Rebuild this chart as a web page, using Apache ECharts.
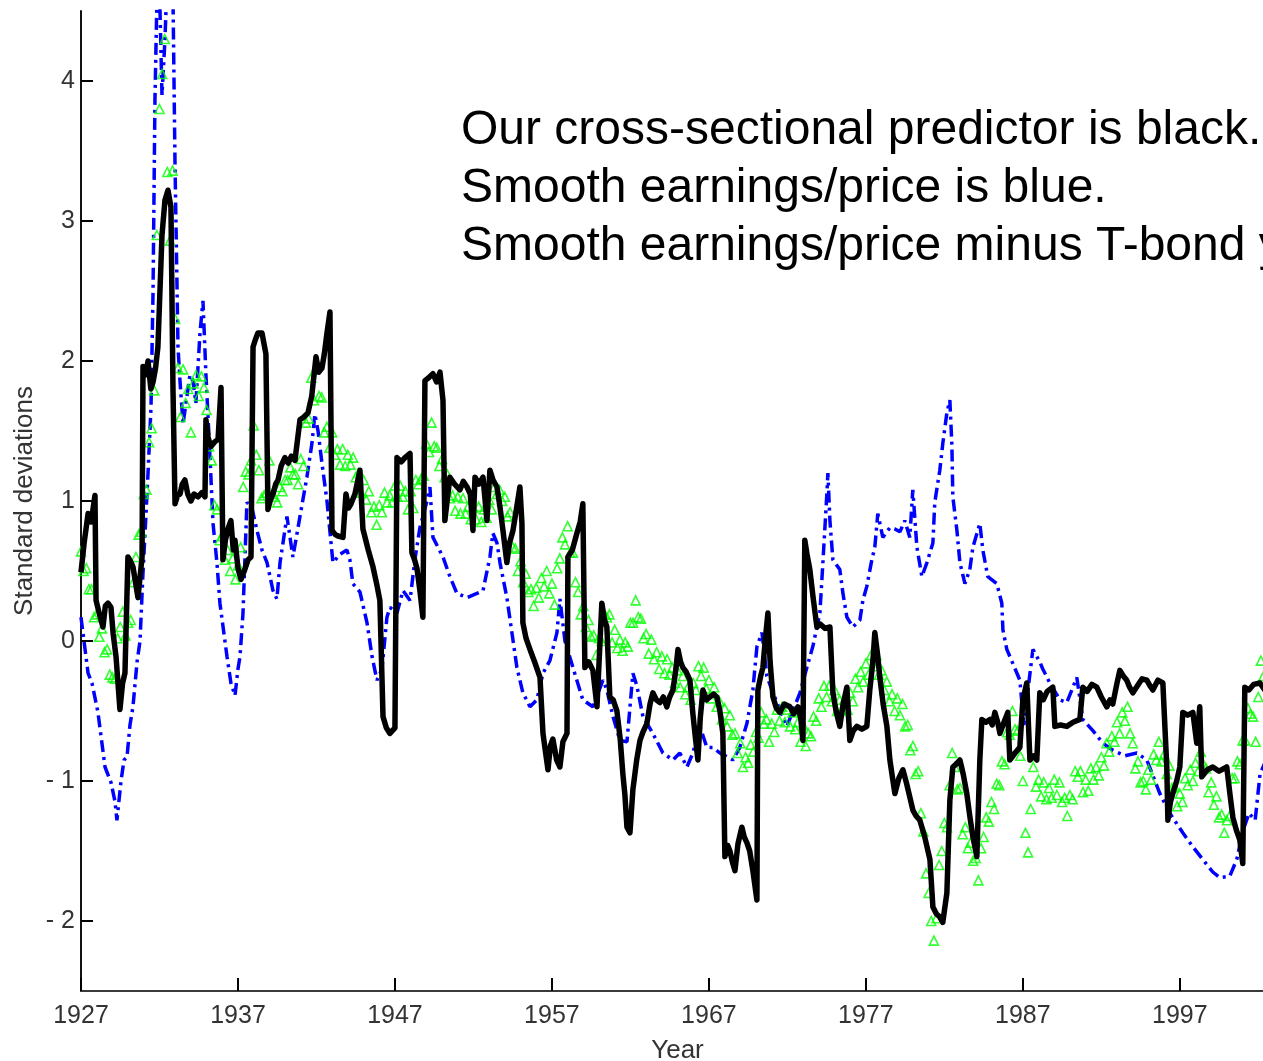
<!DOCTYPE html>
<html>
<head>
<meta charset="utf-8">
<title>Predictors in standard deviations</title>
<script src="https://cdn.jsdelivr.net/npm/echarts@6/dist/echarts.min.js"></script>
<style>
  html, body { margin: 0; padding: 0; background: #ffffff; overflow: hidden; }
  #chart { width: 1300px; height: 1061px; }
</style>
</head>
<body>
<div id="chart"></div>
<script>
// Axis ticks
const yearTicks = [1927, 1937, 1947, 1957, 1967, 1977, 1987, 1997];
const sdTicks = [-2, -1, 0, 1, 2, 3, 4];

// Cross-sectional predictor: [year, standard deviations]
const crossSectional = [
  [1927.00, 0.49], [1927.20, 0.70], [1927.45, 0.91], [1927.65, 0.85], [1927.89, 1.04], [1927.96, 0.29],
  [1928.20, 0.18], [1928.40, 0.10], [1928.55, 0.25], [1928.72, 0.27], [1928.91, 0.24], [1929.05, 0.05],
  [1929.23, -0.11], [1929.48, -0.49], [1929.65, -0.30], [1929.80, -0.23], [1929.99, 0.60], [1930.15, 0.57],
  [1930.31, 0.53], [1930.50, 0.40], [1930.63, 0.31], [1930.89, 0.60], [1930.95, 1.96], [1931.10, 1.90],
  [1931.27, 2.00], [1931.45, 1.80], [1931.59, 1.85], [1931.75, 1.95], [1931.90, 2.10], [1932.16, 2.90],
  [1932.35, 3.15], [1932.54, 3.22], [1932.73, 3.10], [1932.86, 1.80], [1932.99, 0.98], [1933.15, 1.04],
  [1933.31, 1.05], [1933.45, 1.12], [1933.62, 1.15], [1933.80, 1.05], [1934.00, 1.00], [1934.20, 1.05],
  [1934.45, 1.03], [1934.70, 1.06], [1934.90, 1.03], [1934.96, 1.58], [1935.10, 1.45], [1935.28, 1.39],
  [1935.50, 1.42], [1935.73, 1.44], [1935.92, 1.81], [1936.04, 0.58], [1936.20, 0.72], [1936.36, 0.80],
  [1936.55, 0.86], [1936.70, 0.65], [1936.81, 0.72], [1937.00, 0.52], [1937.19, 0.44], [1937.40, 0.50],
  [1937.64, 0.58], [1937.83, 0.60], [1937.96, 2.10], [1938.10, 2.15], [1938.27, 2.20], [1938.53, 2.20],
  [1938.78, 2.05], [1938.91, 0.94], [1939.05, 1.00], [1939.23, 1.05], [1939.40, 1.12], [1939.55, 1.15],
  [1939.75, 1.25], [1939.99, 1.31], [1940.20, 1.27], [1940.40, 1.32], [1940.63, 1.29], [1940.95, 1.58],
  [1941.20, 1.60], [1941.46, 1.63], [1941.70, 1.75], [1941.97, 2.03], [1942.15, 1.92], [1942.35, 1.95],
  [1942.50, 2.05], [1942.67, 2.20], [1942.86, 2.35], [1942.99, 0.79], [1943.20, 0.76], [1943.37, 0.75],
  [1943.69, 0.74], [1943.88, 1.05], [1944.05, 0.95], [1944.20, 0.98], [1944.45, 1.05], [1944.77, 1.22],
  [1944.96, 0.80], [1945.30, 0.65], [1945.60, 0.53], [1945.85, 0.40], [1946.04, 0.29], [1946.24, -0.54],
  [1946.45, -0.62], [1946.68, -0.66], [1947.00, -0.62], [1947.13, 1.31], [1947.40, 1.28], [1947.64, 1.31],
  [1947.96, 1.34], [1948.08, 0.63], [1948.25, 0.58], [1948.40, 0.52], [1948.60, 0.35], [1948.78, 0.17],
  [1948.91, 1.86], [1949.15, 1.88], [1949.42, 1.91], [1949.65, 1.85], [1949.87, 1.92], [1950.06, 1.72],
  [1950.18, 0.86], [1950.50, 1.17], [1950.80, 1.12], [1951.14, 1.08], [1951.35, 1.14], [1951.59, 1.10],
  [1951.80, 1.05], [1951.97, 0.79], [1952.10, 1.17], [1952.35, 1.12], [1952.61, 1.17], [1952.86, 0.86],
  [1953.05, 1.22], [1953.25, 1.15], [1953.50, 1.10], [1953.70, 0.95], [1953.88, 0.79], [1954.13, 0.56],
  [1954.30, 0.70], [1954.52, 0.79], [1954.75, 0.95], [1954.96, 1.10], [1955.09, 0.84], [1955.15, 0.13],
  [1955.35, 0.02], [1955.60, -0.06], [1955.90, -0.15], [1956.24, -0.26], [1956.43, -0.66], [1956.60, -0.80],
  [1956.75, -0.92], [1956.90, -0.75], [1957.06, -0.70], [1957.30, -0.85], [1957.51, -0.90], [1957.70, -0.72],
  [1957.96, -0.66], [1958.02, 0.60], [1958.30, 0.65], [1958.59, 0.77], [1958.80, 0.85], [1958.97, 0.98],
  [1959.10, -0.19], [1959.35, -0.15], [1959.61, -0.21], [1959.87, -0.47], [1960.18, 0.27], [1960.35, 0.15],
  [1960.50, 0.10], [1960.69, -0.40], [1960.90, -0.42], [1961.14, -0.50], [1961.35, -0.70], [1961.52, -0.95],
  [1961.65, -1.10], [1961.78, -1.33], [1961.97, -1.37], [1962.16, -1.06], [1962.40, -0.85], [1962.61, -0.71],
  [1962.80, -0.65], [1963.05, -0.59], [1963.25, -0.45], [1963.43, -0.37], [1963.65, -0.42], [1963.88, -0.44],
  [1964.10, -0.40], [1964.32, -0.47], [1964.50, -0.40], [1964.71, -0.35], [1964.90, -0.20], [1965.03, -0.06],
  [1965.20, -0.15], [1965.34, -0.19], [1965.55, -0.22], [1965.79, -0.28], [1965.98, -0.52], [1966.15, -0.70],
  [1966.30, -0.85], [1966.45, -0.55], [1966.62, -0.35], [1966.85, -0.42], [1967.06, -0.40], [1967.30, -0.38],
  [1967.51, -0.40], [1967.70, -0.50], [1967.89, -0.66], [1968.02, -1.54], [1968.20, -1.46], [1968.34, -1.50],
  [1968.50, -1.58], [1968.66, -1.64], [1968.85, -1.45], [1969.10, -1.33], [1969.25, -1.40], [1969.42, -1.44],
  [1969.60, -1.50], [1969.80, -1.64], [1970.06, -1.85], [1970.12, -0.35], [1970.30, -0.25], [1970.44, -0.19],
  [1970.60, 0.02], [1970.76, 0.20], [1970.90, -0.15], [1971.08, -0.40], [1971.30, -0.48], [1971.52, -0.51],
  [1971.80, -0.45], [1972.16, -0.47], [1972.40, -0.52], [1972.67, -0.47], [1972.85, -0.55], [1972.99, -0.71],
  [1973.11, 0.72], [1973.25, 0.62], [1973.43, 0.51], [1973.65, 0.30], [1973.88, 0.10], [1974.10, 0.12],
  [1974.40, 0.09], [1974.71, 0.10], [1974.90, -0.37], [1975.10, -0.50], [1975.34, -0.61], [1975.55, -0.45],
  [1975.79, -0.33], [1975.98, -0.71], [1976.20, -0.64], [1976.43, -0.61], [1976.75, -0.63], [1977.06, -0.61],
  [1977.25, -0.35], [1977.45, -0.14], [1977.57, 0.06], [1977.75, -0.10], [1977.89, -0.26], [1978.10, -0.45],
  [1978.34, -0.61], [1978.53, -0.85], [1978.70, -0.98], [1978.85, -1.09], [1979.10, -0.98], [1979.36, -0.92],
  [1979.60, -1.02], [1980.00, -1.21], [1980.20, -1.25], [1980.44, -1.28], [1980.75, -1.40], [1981.08, -1.56],
  [1981.27, -1.90], [1981.50, -1.95], [1981.70, -1.97], [1981.90, -2.01], [1982.16, -1.80], [1982.35, -1.14],
  [1982.54, -0.90], [1982.75, -0.88], [1982.99, -0.85], [1983.20, -0.95], [1983.43, -1.09], [1983.62, -1.25],
  [1983.82, -1.40], [1984.07, -1.54], [1984.26, -0.85], [1984.39, -0.56], [1984.65, -0.58], [1984.90, -0.56],
  [1985.05, -0.60], [1985.22, -0.51], [1985.40, -0.58], [1985.54, -0.66], [1985.80, -0.58], [1986.04, -0.51],
  [1986.17, -0.85], [1986.50, -0.80], [1986.81, -0.76], [1987.00, -0.42], [1987.25, -0.30], [1987.45, -0.85],
  [1987.70, -0.82], [1987.89, -0.85], [1988.08, -0.37], [1988.30, -0.42], [1988.55, -0.36], [1988.91, -0.33],
  [1989.04, -0.61], [1989.40, -0.60], [1989.80, -0.61], [1990.20, -0.58], [1990.63, -0.56], [1990.82, -0.33],
  [1991.10, -0.36], [1991.40, -0.31], [1991.71, -0.33], [1992.00, -0.40], [1992.35, -0.47], [1992.55, -0.42],
  [1992.73, -0.45], [1993.00, -0.30], [1993.18, -0.21], [1993.40, -0.25], [1993.62, -0.28], [1993.80, -0.33],
  [1994.01, -0.37], [1994.30, -0.32], [1994.60, -0.27], [1994.90, -0.28], [1995.10, -0.32], [1995.28, -0.35],
  [1995.60, -0.28], [1995.92, -0.30], [1996.17, -0.90], [1996.24, -1.28], [1996.40, -1.15], [1996.55, -1.09],
  [1996.80, -1.00], [1997.00, -0.90], [1997.19, -0.51], [1997.50, -0.53], [1997.83, -0.51], [1998.08, -0.73],
  [1998.27, -0.47], [1998.40, -0.97], [1998.75, -0.92], [1999.10, -0.90], [1999.50, -0.93], [1999.99, -0.90],
  [2000.20, -1.10], [2000.38, -1.26], [2000.60, -1.35], [2000.82, -1.42], [2001.01, -1.59], [2001.14, -0.33],
  [2001.40, -0.35], [2001.70, -0.31], [2002.10, -0.30], [2002.60, -0.38]
];

// Smooth earnings/price: [year, standard deviations]
const smoothEP = [
  [1927.00, 0.17], [1927.45, -0.23], [1927.70, -0.30], [1928.08, -0.51], [1928.53, -0.90],
  [1928.91, -1.01], [1929.17, -1.15], [1929.29, -1.28], [1929.55, -1.00], [1929.74, -0.85],
  [1929.93, -0.83], [1930.12, -0.60], [1930.31, -0.47], [1930.57, -0.15], [1930.76, 0.00],
  [1930.95, 0.49], [1931.14, 0.90], [1931.27, 1.20], [1931.46, 1.67], [1931.59, 2.50],
  [1931.71, 3.86], [1931.84, 4.60], [1931.97, 4.80], [1932.16, 3.90], [1932.35, 4.30],
  [1932.54, 4.90], [1932.73, 4.70], [1932.86, 4.60], [1932.99, 3.40], [1933.18, 2.10],
  [1933.31, 1.85], [1933.50, 1.55], [1933.75, 1.75], [1933.94, 1.90], [1934.13, 1.86],
  [1934.32, 1.70], [1934.58, 2.20], [1934.77, 2.43], [1934.96, 1.90], [1935.22, 1.31],
  [1935.41, 0.84], [1935.66, 0.56], [1935.85, 0.27], [1936.11, 0.05], [1936.30, -0.11],
  [1936.55, -0.30], [1936.81, -0.39], [1937.00, -0.20], [1937.13, -0.11], [1937.32, 0.20],
  [1937.57, 0.99], [1937.89, 0.95], [1938.21, 0.79], [1938.53, 0.65], [1938.85, 0.56],
  [1939.23, 0.36], [1939.48, 0.30], [1939.68, 0.56], [1940.12, 0.89], [1940.50, 0.60],
  [1940.95, 0.89], [1941.39, 1.17], [1941.71, 1.41], [1941.90, 1.62], [1942.10, 1.50],
  [1942.35, 1.27], [1942.67, 1.00], [1943.05, 0.56], [1943.50, 0.62], [1943.94, 0.65],
  [1944.13, 0.58], [1944.32, 0.41], [1944.77, 0.35], [1945.22, 0.13], [1945.54, -0.11],
  [1945.85, -0.28], [1946.17, -0.20], [1946.49, 0.17], [1946.68, 0.24], [1947.13, 0.20],
  [1947.51, 0.36], [1947.96, 0.29], [1948.27, 0.58], [1948.59, 0.81], [1949.04, 1.00],
  [1949.23, 1.10], [1949.42, 0.74], [1950.06, 0.60], [1950.50, 0.46], [1950.95, 0.34],
  [1951.59, 0.31], [1952.22, 0.34], [1952.61, 0.36], [1953.05, 0.60], [1953.24, 0.77],
  [1953.50, 0.70], [1953.69, 0.56], [1954.13, 0.31], [1954.45, 0.06], [1954.77, -0.19],
  [1955.15, -0.37], [1955.60, -0.47], [1956.04, -0.42], [1956.43, -0.23], [1956.87, -0.14],
  [1957.32, 0.06], [1957.51, 0.30], [1957.83, 0.00], [1958.34, -0.19], [1958.97, -0.42],
  [1959.61, -0.47], [1960.25, -0.28], [1960.50, -0.35], [1960.89, -0.54], [1961.33, -0.71],
  [1961.78, -0.72], [1962.16, -0.23], [1962.41, -0.32], [1962.80, -0.54], [1963.43, -0.66],
  [1964.07, -0.80], [1964.71, -0.85], [1965.15, -0.80], [1965.60, -0.90], [1965.98, -0.80],
  [1966.43, -0.61], [1966.87, -0.76], [1967.25, -0.76], [1967.70, -0.80], [1968.53, -0.85],
  [1968.97, -0.76], [1969.42, -0.59], [1969.80, -0.35], [1970.06, -0.04], [1970.38, 0.06],
  [1970.69, -0.25], [1971.08, -0.37], [1971.52, -0.49], [1971.97, -0.61], [1972.35, -0.50],
  [1972.80, -0.37], [1973.24, -0.19], [1973.62, -0.04], [1974.07, 0.20], [1974.20, 0.44],
  [1974.52, 1.06], [1974.58, 1.20], [1974.71, 0.86], [1974.90, 0.58], [1975.34, 0.51],
  [1975.54, 0.34], [1975.79, 0.17], [1976.17, 0.10], [1976.62, 0.15], [1976.81, 0.29],
  [1977.06, 0.39], [1977.38, 0.58], [1977.57, 0.67], [1977.76, 0.91], [1978.08, 0.74],
  [1978.53, 0.81], [1978.85, 0.80], [1979.17, 0.78], [1979.48, 0.86], [1979.80, 0.74],
  [1979.99, 1.08], [1980.25, 0.67], [1980.57, 0.46], [1980.89, 0.56], [1981.27, 0.70],
  [1981.39, 0.99], [1981.71, 1.22], [1981.90, 1.41], [1982.16, 1.63], [1982.35, 1.72],
  [1982.48, 1.40], [1982.54, 1.03], [1982.80, 0.79], [1982.99, 0.56], [1983.31, 0.41],
  [1983.62, 0.51], [1983.82, 0.67], [1984.26, 0.84], [1984.45, 0.65], [1984.77, 0.46],
  [1985.34, 0.41], [1985.66, 0.27], [1985.73, 0.08], [1985.98, -0.06], [1986.36, -0.16],
  [1986.81, -0.28], [1987.06, -0.60], [1987.25, -0.42], [1987.64, -0.06], [1988.08, -0.15],
  [1988.27, -0.20], [1988.72, -0.30], [1989.36, -0.42], [1989.80, -0.44], [1990.44, -0.26],
  [1990.82, -0.56], [1991.46, -0.64], [1992.10, -0.73], [1992.73, -0.78], [1993.50, -0.82],
  [1994.26, -0.80], [1994.90, -0.85], [1995.73, -1.09], [1996.36, -1.23], [1997.19, -1.37],
  [1997.83, -1.47], [1998.46, -1.56], [1999.10, -1.65], [1999.55, -1.69], [2000.18, -1.68],
  [2000.63, -1.56], [2001.01, -1.36], [2001.41, -1.23], [2001.80, -1.28], [2002.11, -0.95],
  [2002.50, -0.85]
];

// Smooth earnings/price minus T-bond yield, every two months from 1927
const spreadStart = 1927;
const spreadPerYear = 6;
const spreadValues = [
  // 1927-1936
  0.64, 0.50, 0.52, 0.37, 0.37, 0.17,   0.19, 0.03, 0.09, -0.08, -0.06, -0.24,
  -0.26, -0.27, 0.02, 0.10, 0.21, 0.04,   0.13, 0.15, 0.42, 0.60, 0.76, 0.78,
  1.05, 1.08, 1.42, 1.52, 1.79, 2.90,   3.80, 4.05, 4.30, 3.35, 2.86, 3.36,
  2.30, 1.95, 1.60, 1.94, 1.70, 1.80,   1.49, 1.84, 1.90, 1.75, 1.89, 1.81,
  1.65, 1.39, 1.29, 0.97, 0.94, 0.72,   0.75, 0.58, 0.65, 0.50, 0.59, 0.44,
  // 1937-1946
  0.54, 0.67, 1.10, 1.21, 1.19, 1.29,   1.54, 1.33, 1.22, 1.02, 1.04, 1.06,
  1.29, 1.05, 1.03, 0.99, 1.10, 1.07,   1.15, 1.15, 1.24, 1.19, 1.19, 1.12,
  1.30, 1.25, 1.56, 1.59, 1.88, 1.72,   1.96, 1.75, 1.74, 1.49, 1.53, 1.38,
  1.49, 1.33, 1.37, 1.26, 1.37, 1.25,   1.33, 1.26, 1.31, 1.17, 1.20, 1.06,
  1.15, 1.01, 1.07, 0.92, 0.96, 0.83,   0.97, 0.92, 1.06, 0.99, 1.04, 0.99,
  // 1947-1956
  1.11, 1.03, 1.11, 1.03, 1.07, 0.94,   1.07, 0.95, 1.15, 1.12, 1.16, 1.18,
  1.41, 1.35, 1.56, 1.39, 1.38, 1.25,   1.30, 1.17, 1.19, 1.02, 1.04, 0.93,
  1.03, 0.91, 1.02, 0.91, 0.96, 0.87,   0.95, 0.87, 0.96, 0.85, 0.94, 0.88,
  1.01, 0.94, 1.10, 1.05, 1.08, 1.00,   1.03, 0.89, 0.92, 0.67, 0.66, 0.50,
  0.57, 0.42, 0.48, 0.35, 0.37, 0.25,   0.38, 0.31, 0.45, 0.39, 0.50, 0.34,
  // 1957-1966
  0.41, 0.26, 0.52, 0.59, 0.74, 0.69,   0.82, 0.63, 0.63, 0.42, 0.35, 0.19,
  0.25, 0.10, 0.15, 0.03, 0.04, -0.10,   0.02, 0.00, 0.19, 0.17, 0.19, -0.01,
  0.08, -0.05, 0.01, -0.07, -0.01, -0.04,   0.13, 0.13, 0.29, 0.17, 0.16, 0.02,
  0.05, -0.09, 0.01, -0.13, -0.08, -0.20,   -0.11, -0.23, -0.13, -0.24, -0.19, -0.30,
  -0.21, -0.33, -0.25, -0.38, -0.33, -0.42,   -0.30, -0.35, -0.18, -0.25, -0.19, -0.34,
  // 1967-1976
  -0.28, -0.41, -0.33, -0.47, -0.43, -0.56,   -0.48, -0.61, -0.53, -0.67, -0.66, -0.80,
  -0.73, -0.90, -0.83, -0.87, -0.74, -0.79,   -0.65, -0.69, -0.51, -0.59, -0.56, -0.72,
  -0.59, -0.65, -0.49, -0.57, -0.47, -0.58,   -0.49, -0.61, -0.51, -0.63, -0.58, -0.72,
  -0.60, -0.75, -0.66, -0.68, -0.54, -0.57,   -0.41, -0.47, -0.32, -0.40, -0.32, -0.43,
  -0.35, -0.50, -0.42, -0.50, -0.41, -0.49,   -0.37, -0.43, -0.27, -0.33, -0.22, -0.29,
  // 1977-1986
  -0.16, -0.24, -0.10, -0.18, -0.10, -0.24,   -0.21, -0.35, -0.29, -0.43, -0.38, -0.50,
  -0.41, -0.53, -0.45, -0.61, -0.60, -0.78,   -0.75, -0.95, -0.93, -1.23, -1.36, -1.66,
  -1.80, -2.00, -2.14, -1.98, -1.60, -1.50,   -1.30, -1.33, -1.03, -0.80, -0.90, -1.06,
  -1.05, -1.38, -1.33, -1.48, -1.44, -1.57,   -1.55, -1.71, -1.48, -1.40, -1.26, -1.29,
  -1.15, -1.20, -1.02, -1.03, -0.86, -0.88,   -0.65, -0.67, -0.50, -0.63, -0.64, -0.82,
  // 1987-1996
  -1.00, -1.37, -1.51, -1.20, -0.90, -1.04,   -0.99, -1.11, -1.01, -1.13, -1.05, -1.12,
  -0.99, -1.10, -1.01, -1.15, -1.12, -1.25,   -1.10, -1.13, -0.93, -0.97, -0.93, -1.08,
  -0.99, -1.07, -0.91, -0.99, -0.90, -0.96,   -0.83, -0.89, -0.73, -0.79, -0.68, -0.72,
  -0.58, -0.66, -0.51, -0.57, -0.47, -0.66,   -0.73, -0.91, -0.86, -1.01, -1.00, -1.06,
  -0.92, -0.99, -0.81, -0.85, -0.72, -0.86,   -0.81, -0.95, -0.89, -1.05, -1.04, -1.18,
  // 1997-2002
  -1.09, -1.15, -0.98, -1.03, -0.92, -1.00,   -0.87, -0.93, -0.79, -0.88, -0.91, -1.08,
  -1.01, -1.17, -1.11, -1.26, -1.24, -1.37,   -1.28, -1.25, -0.98, -0.98, -0.86, -0.88,
  -0.71, -0.71, -0.48, -0.52, -0.54, -0.72,   -0.40, -0.14, -0.25
];

// Explanatory note lines
const noteLines = [
  'Our cross-sectional predictor is black.',
  'Smooth earnings/price is blue.',
  'Smooth earnings/price minus T-bond yield is green.'
];

const FONT = '"Liberation Sans", Arial, Helvetica, sans-serif';
const spreadData = spreadValues.map((v, i) => [spreadStart + i / spreadPerYear, v]);

const chart = echarts.init(document.getElementById('chart'), null, { renderer: 'canvas' });

chart.setOption({
  backgroundColor: '#ffffff',
  animation: false,
  grid: { left: 81, top: 11, right: 26, bottom: 70, containLabel: false, outerBoundsMode: 'none' },
  xAxis: {
    type: 'value',
    min: 1927,
    max: 2003,
    name: 'Year',
    nameLocation: 'middle',
    nameGap: 47,
    nameMoveOverlap: false,
    nameTextStyle: { fontFamily: FONT, fontSize: 26, color: '#333333' },
    axisLine: { show: true, onZero: false, lineStyle: { color: '#3a3a3a', width: 2 } },
    axisTick: { show: true, inside: true, length: 13, customValues: yearTicks,
                lineStyle: { color: '#000000', width: 2 } },
    axisLabel: { customValues: yearTicks, margin: 13, fontFamily: FONT, fontSize: 25,
                 color: '#333333', formatter: v => String(v) },
    splitLine: { show: false }
  },
  yAxis: {
    type: 'value',
    min: -2.5,
    max: 4.5,
    name: 'Standard deviations',
    nameLocation: 'middle',
    nameGap: 43,
    nameMoveOverlap: false,
    nameTextStyle: { fontFamily: FONT, fontSize: 26, color: '#333333' },
    axisLine: { show: true, onZero: false, lineStyle: { color: '#111111', width: 2 } },
    axisTick: { show: true, inside: true, length: 12, customValues: sdTicks,
                lineStyle: { color: '#000000', width: 2 } },
    axisLabel: { customValues: sdTicks, margin: 6, fontFamily: FONT, fontSize: 25,
                 color: '#333333',
                 formatter: v => (v < 0 ? '- ' + Math.abs(v) : String(v)) },
    splitLine: { show: false }
  },
  series: [
    {
      name: 'Smooth earnings/price',
      type: 'line',
      data: smoothEP,
      showSymbol: false,
      clip: true,
      z: 2,
      lineStyle: { color: '#0000ff', width: 3.5, type: [12, 5, 3, 5] }
    },
    {
      name: 'Smooth earnings/price minus T-bond yield',
      type: 'scatter',
      data: spreadData,
      symbol: 'triangle',
      symbolSize: 9,
      clip: true,
      z: 3,
      itemStyle: { color: 'rgba(255,255,255,0)', borderColor: '#00ff00', borderWidth: 1.6 }
    },
    {
      name: 'Cross-sectional predictor',
      type: 'line',
      data: crossSectional,
      showSymbol: false,
      clip: true,
      z: 4,
      lineStyle: { color: '#000000', width: 5.5, join: 'round' }
    }
  ],
  graphic: noteLines.map((t, i) => ({
    type: 'text',
    z: 10,
    style: {
      text: t,
      x: 461,
      y: 131 + i * 58,
      font: '48px ' + FONT,
      fill: '#000000',
      verticalAlign: 'middle',
      textVerticalAlign: 'middle'
    }
  }))
});
</script>
</body>
</html>
